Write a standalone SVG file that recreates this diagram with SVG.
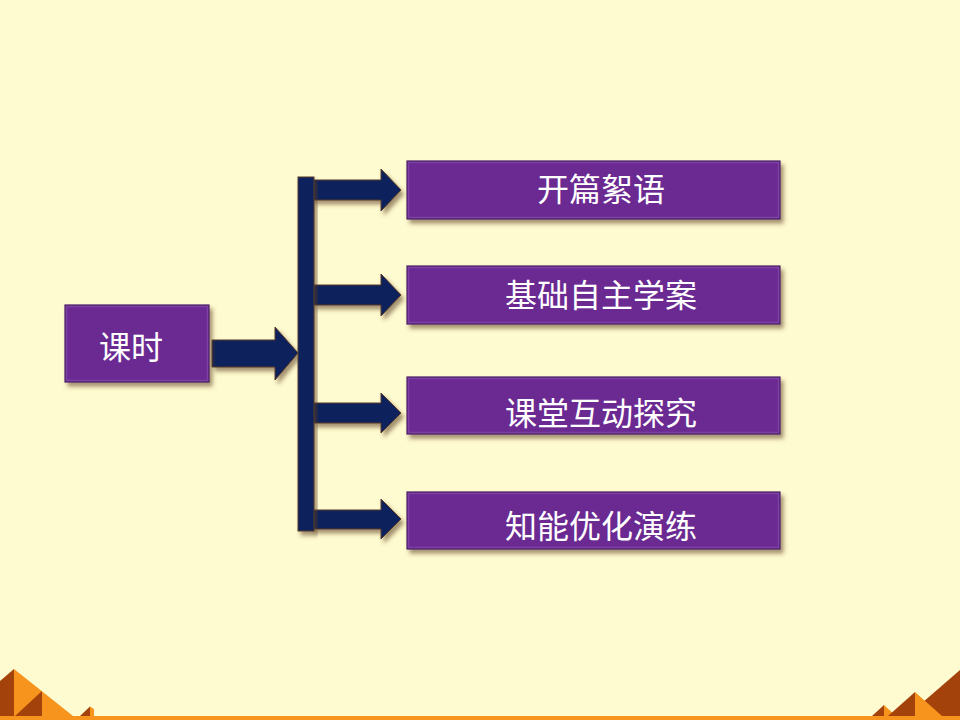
<svg xmlns="http://www.w3.org/2000/svg" width="960" height="720" viewBox="0 0 960 720">
<defs>
<style>
.box{fill:#6a2c92;stroke:#4a1f66;stroke-width:1.2;filter:url(#sh)}
.bev{fill:none;stroke:#8a52b0;stroke-width:1.5;opacity:0.6}
.lbl{font-family:"Noto Sans CJK SC","Noto Sans",sans-serif;font-size:32px;fill:#ffffff;text-anchor:middle}
.arr{fill:#08205c;stroke:#5a3a2a;stroke-width:1;filter:url(#sh)}
.dk{fill:#a3420a}
.lt{fill:#f7941d}
</style>
<filter id="sh" x="-10%" y="-20%" width="130%" height="150%">
<feDropShadow dx="3" dy="4" stdDeviation="2" flood-color="#5a3a1a" flood-opacity="0.55"/>
</filter>
</defs>
<rect x="0" y="0" width="960" height="720" fill="#fffbd0"/>
<g id="decor">
<rect x="0" y="716" width="960" height="4" class="lt"/>
<polygon class="dk" points="0,681 14,669 14,716 0,716"/>
<polygon class="lt" points="14,669 73,716 14,716"/>
<polygon class="dk" points="15,716 42,691 42,716"/>
<polygon class="dk" points="80,716 90,706.5 90,716"/>
<polygon class="lt" points="90,706.5 94,709 94,716 90,716"/>
<polygon class="dk" points="960,670 907,716 960,716"/>
<polygon class="dk" points="872,716 884,705 884,716"/>
<polygon class="lt" points="884,705 896,716 884,716"/>
<polygon class="dk" points="888,716 915,692 915,716"/>
<polygon class="lt" points="915,692 942,716 915,716"/>
</g>
<g id="connectors">
<polygon class="arr" points="212,340 275,340 275,327 298,353 275,380 275,367 212,367"/>
<polygon class="arr" points="312,180 381,180 381,169 401,190 381,211 381,200 312,200"/>
<polygon class="arr" points="313,285 381,285 381,274 401,295 381,316 381,305 313,305"/>
<polygon class="arr" points="313,403 381,403 381,393 401,413 381,433 381,423 313,423"/>
<polygon class="arr" points="312,510 381,510 381,499 401,519 381,539 381,529 312,529"/>
<rect class="arr" x="298" y="177" width="16" height="354"/>
</g>
<g id="n0">
<rect class="box" x="65" y="305" width="144" height="77"/>
<rect class="bev" x="66.5" y="306.5" width="141" height="74"/>
<text class="lbl" x="131" y="358.5">课时</text>
</g>
<g id="n1">
<rect class="box" x="407" y="161" width="373" height="58"/>
<rect class="bev" x="408.5" y="162.5" width="370" height="55"/>
<text class="lbl" x="601" y="201">开篇絮语</text>
</g>
<g id="n2">
<rect class="box" x="407" y="266" width="373" height="58"/>
<rect class="bev" x="408.5" y="267.5" width="370" height="55"/>
<text class="lbl" x="601" y="306.5">基础自主学案</text>
</g>
<g id="n3">
<rect class="box" x="407" y="377" width="373" height="57"/>
<rect class="bev" x="408.5" y="378.5" width="370" height="54"/>
<text class="lbl" x="601" y="424.5">课堂互动探究</text>
</g>
<g id="n4">
<rect class="box" x="407" y="492" width="373" height="57"/>
<rect class="bev" x="408.5" y="493.5" width="370" height="54"/>
<text class="lbl" x="601" y="537.5">知能优化演练</text>
</g>
</svg>
